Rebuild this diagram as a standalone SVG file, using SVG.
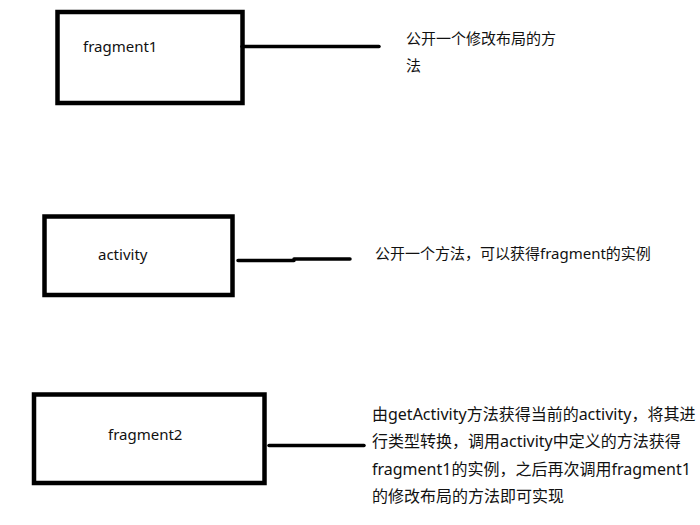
<svg xmlns="http://www.w3.org/2000/svg" width="700" height="525" viewBox="0 0 700 525">
<style>
.box{fill:#fff;stroke:#000;stroke-width:4.5}
.ln{fill:none;stroke:#000;stroke-width:3.5;stroke-linecap:round}
text{font-family:"Noto Sans","Noto Sans CJK SC",sans-serif;fill:#111}
.lbl{font-size:15px}
.note{font-size:15px}
.big{font-size:16px}
</style>
<rect width="700" height="525" fill="#fff"/>
<g id="fragment1">
<rect class="box" x="57.5" y="12" width="185" height="91"/>
<text class="lbl" x="83" y="52">fragment1</text>
</g>
<g id="activity">
<rect class="box" x="44.5" y="216.5" width="188" height="78.5"/>
<text class="lbl" x="98" y="260">activity</text>
</g>
<g id="fragment2">
<rect class="box" x="34" y="394.5" width="230.5" height="88.5"/>
<text class="lbl" x="108" y="440">fragment2</text>
</g>
<g id="connectors">
<path class="ln" d="M242 46.5 H379"/>
<path class="ln" d="M238 260.5 H294 M294 259 H350"/>
<path class="ln" d="M269 445.5 H364"/>
</g>
<g id="notes">
<text class="note" x="406" y="44">公开一个修改布局的方</text>
<text class="note" x="406" y="71">法</text>
<text class="note" x="375" y="259">公开一个方法，可以获得fragment的实例</text>
<text class="big" x="372" y="420">由getActivity方法获得当前的activity，将其进</text>
<text class="big" x="372" y="447">行类型转换，调用activity中定义的方法获得</text>
<text class="big" x="372" y="475">fragment1的实例，之后再次调用fragment1</text>
<text class="big" x="372" y="502">的修改布局的方法即可实现</text>
</g>
</svg>
